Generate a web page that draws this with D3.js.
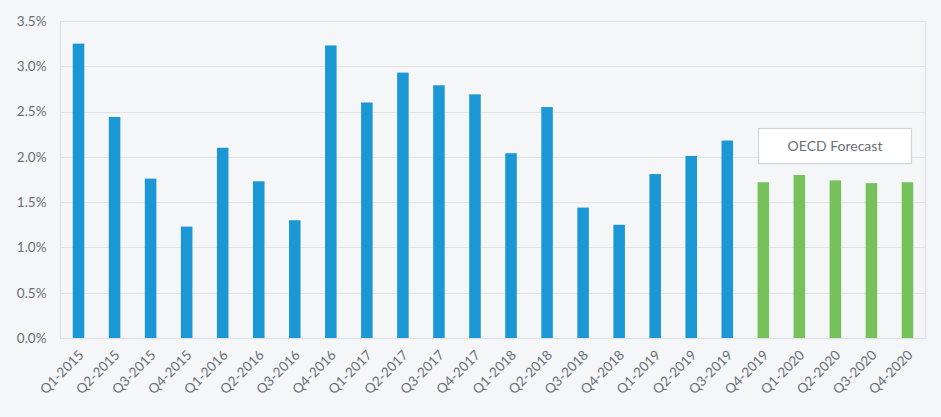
<!DOCTYPE html>
<html>
<head>
<meta charset="utf-8">
<script src="https://cdn.jsdelivr.net/npm/d3@7"></script>
<style>
  html, body { margin: 0; padding: 0; background: #f4f6f8; }
  svg { display: block; }
</style>
</head>
<body>
<svg id="chart" width="941" height="417"></svg>
<script>
const categories = ["Q1-2015","Q2-2015","Q3-2015","Q4-2015","Q1-2016","Q2-2016","Q3-2016","Q4-2016",
  "Q1-2017","Q2-2017","Q3-2017","Q4-2017","Q1-2018","Q2-2018","Q3-2018","Q4-2018",
  "Q1-2019","Q2-2019","Q3-2019","Q4-2019","Q1-2020","Q2-2020","Q3-2020","Q4-2020"];
const values = [3.25,2.44,1.76,1.23,2.10,1.73,1.30,3.23,
  2.60,2.93,2.79,2.69,2.04,2.55,1.44,1.25,
  1.81,2.01,2.18,1.72,1.80,1.74,1.71,1.72];
const forecastFlags = [0,0,0,0,0,0,0,0,0,0,0,0,0,0,0,0,0,0,0,1,1,1,1,1];
const yTicks = [0,0.5,1.0,1.5,2.0,2.5,3.0,3.5];
const annotationText = "OECD Forecast";

const svg = d3.select("#chart");
const m = {left: 60.5, right: 925.5, top: 21, bottom: 338};
const font = "Lato, 'Open Sans', sans-serif";

const x = d3.scaleBand().domain(categories).range([m.left, m.right]).paddingInner(0.68).paddingOuter(0.34);
const y = d3.scaleLinear().domain([0, 3.5]).range([m.bottom, m.top]);

// gridlines
svg.append("g").selectAll("line").data(yTicks).join("line")
  .attr("x1", m.left).attr("x2", m.right)
  .attr("y1", d => Math.round(y(d)) + 0.5).attr("y2", d => Math.round(y(d)) + 0.5)
  .attr("stroke", "#e1e3e6").attr("stroke-width", 1);

// plot border
svg.append("rect").attr("x", m.left).attr("y", Math.round(y(3.5)) + 0.5)
  .attr("width", m.right - m.left).attr("height", Math.round(y(0)) - Math.round(y(3.5)))
  .attr("fill", "none").attr("stroke", "#dfe1e4").attr("stroke-width", 1.2);

// y axis
const yAxis = d3.axisLeft(y).tickValues(yTicks).tickFormat(d => d.toFixed(1) + "%").tickSize(0).tickPadding(14);
const yg = svg.append("g").attr("transform", `translate(${m.left},0)`).call(yAxis);
yg.select(".domain").remove();
yg.selectAll("text").attr("font-family", font).attr("font-size", 13.5).attr("fill", "#6b6f75");

// bars
svg.append("g").selectAll("rect").data(categories).join("rect")
  .attr("x", d => x(d))
  .attr("width", x.bandwidth())
  .attr("y", (d, i) => y(values[i]))
  .attr("height", (d, i) => y(0) - y(values[i]))
  .attr("fill", (d, i) => forecastFlags[i] ? "#77c15b" : "#1b97d5");

// x axis
const xAxis = d3.axisBottom(x).tickSize(0).tickPadding(0);
const xg = svg.append("g").attr("transform", `translate(0,${m.bottom})`).call(xAxis);
xg.select(".domain").remove();
xg.selectAll("text")
  .attr("font-family", font).attr("font-size", 13.5).attr("fill", "#6b6f75")
  .attr("text-anchor", "end")
  .attr("dy", "0")
  .attr("transform", "translate(6,18) rotate(-45)");

// annotation
const ax = 758.5, ay = 128.5, aw = 153, ah = 35;
svg.append("rect").attr("x", ax).attr("y", ay).attr("width", aw).attr("height", ah)
  .attr("fill", "#ffffff").attr("stroke", "#d3d5d8").attr("stroke-width", 1.2);
svg.append("text").attr("x", ax + aw / 2).attr("y", ay + ah / 2 + 5)
  .attr("text-anchor", "middle").attr("font-family", font).attr("font-size", 14)
  .attr("fill", "#6b6f75").text(annotationText);
</script>
</body>
</html>
